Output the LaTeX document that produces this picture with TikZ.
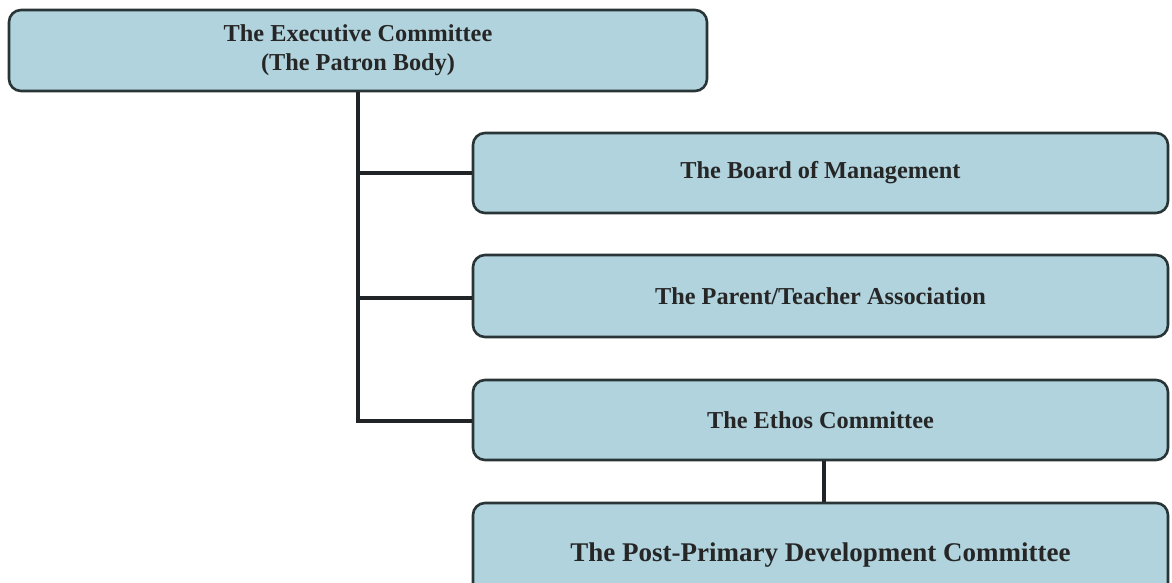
\documentclass[tikz,border=0pt]{standalone}
\usepackage{fontspec}
\setmainfont{Liberation Serif}
\definecolor{boxfill}{RGB}{176,211,221}
\definecolor{boxline}{RGB}{40,52,54}
\definecolor{linkcol}{RGB}{32,36,38}
\begin{document}
\begin{tikzpicture}[x=1pt,y=-1pt,
  orgbox/.style={draw=boxline, line width=2.6pt, fill=boxfill, rounded corners=12pt,
    rectangle, inner sep=0pt, align=center, text=black!85,
    font=\fontsize{24.3}{29}\selectfont\bfseries},
  link/.style={draw=linkcol, line width=4.5pt}]
\useasboundingbox (0,0) rectangle (1172,582);
\clip (0,0) rectangle (1172,582);
\node[orgbox, minimum width=698pt, minimum height=81pt] (exec) at (358,50.5)
  {The Executive Committee\\(The Patron Body)};
\node[orgbox, minimum width=695pt, minimum height=80pt] (board) at (820.5,173)
  {The Board of Management};
\node[orgbox, minimum width=695pt, minimum height=82pt] (pta) at (820.5,296)
  {The Parent/Teacher Association};
\node[orgbox, minimum width=695pt, minimum height=80pt] (ethos) at (820.5,420)
  {The Ethos Committee};
\node[orgbox, minimum width=695pt, minimum height=104pt,
  font=\fontsize{27}{32}\selectfont\bfseries] (post) at (820.5,555)
  {The Post-Primary Development Committee};
\coordinate (jb) at (358,173);
\coordinate (jp) at (358,298);
\coordinate (je) at (358,421);
\draw[link] (exec.south) -- (je) -- (je -| ethos.west);
\draw[link] (jb) -- (jb -| board.west);
\draw[link] (jp) -- (jp -| pta.west);
\draw[link] ([xshift=3.5pt]ethos.south) -- ([xshift=3.5pt]post.north);
\end{tikzpicture}
\end{document}
